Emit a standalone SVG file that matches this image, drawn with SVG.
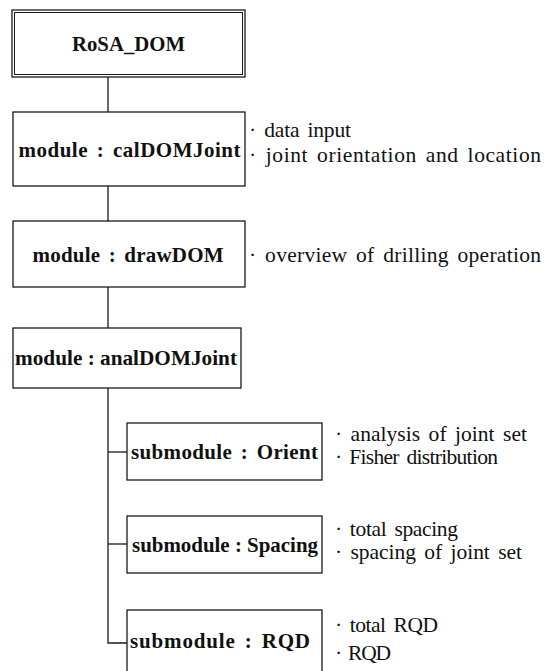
<svg xmlns="http://www.w3.org/2000/svg" width="545" height="671" viewBox="0 0 545 671">
  <style>
    .box { fill: #ffffff; stroke: #1a1a1a; stroke-width: 1.3; }
    .inner { fill: none; stroke: #1a1a1a; stroke-width: 1; }
    .lbl { font-family: "Liberation Serif", "Times New Roman", serif; font-weight: bold; font-size: 21px; fill: #111; text-anchor: middle; word-spacing: 3px; }
    .note { font-family: "Liberation Serif", "Times New Roman", serif; font-size: 21.5px; fill: #111; word-spacing: 3px; }
    .wire { fill: none; stroke: #1a1a1a; stroke-width: 1.3; }
  </style>
  <rect width="545" height="671" fill="#ffffff"/>

  <!-- connectors -->
  <g id="connectors">
    <line class="wire" x1="108" y1="77" x2="108" y2="112"/>
    <line class="wire" x1="108" y1="186" x2="108" y2="221"/>
    <line class="wire" x1="108" y1="287" x2="108" y2="328"/>
    <polyline class="wire" points="108,388 108,643 127,643"/>
    <line class="wire" x1="108" y1="452" x2="127" y2="452"/>
    <line class="wire" x1="108" y1="544" x2="127" y2="544"/>
  </g>

  <!-- root program -->
  <g id="rosa-dom">
    <rect class="box" x="12" y="10" width="233" height="67"/>
    <rect class="inner" x="14.5" y="12.5" width="228" height="62"/>
    <text class="lbl" x="128.5" y="51" textLength="113" lengthAdjust="spacingAndGlyphs">RoSA_DOM</text>
  </g>

  <g id="cal-dom-joint">
    <rect class="box" x="13" y="112" width="232" height="74"/>
    <text class="lbl" x="129.5" y="157" textLength="222" lengthAdjust="spacing">module : calDOMJoint</text>
    <text class="note" x="249" y="137" textLength="102" lengthAdjust="spacing">· data input</text>
    <text class="note" x="249" y="162" textLength="292" lengthAdjust="spacing">· joint orientation and location</text>
  </g>

  <g id="draw-dom">
    <rect class="box" x="13" y="221" width="232" height="66"/>
    <text class="lbl" x="128" y="262" textLength="191" lengthAdjust="spacing">module : drawDOM</text>
    <text class="note" x="249" y="262" textLength="292" lengthAdjust="spacing">· overview of drilling operation</text>
  </g>

  <g id="anal-dom-joint">
    <rect class="box" x="13" y="328" width="228" height="60"/>
    <text class="lbl" x="126" y="365" textLength="222" lengthAdjust="spacingAndGlyphs" style="word-spacing:0">module : analDOMJoint</text>
  </g>

  <g id="sub-orient">
    <rect class="box" x="127" y="423" width="195" height="57"/>
    <text class="lbl" x="224.5" y="459" textLength="187" lengthAdjust="spacing">submodule : Orient</text>
    <text class="note" x="335" y="441" textLength="192" lengthAdjust="spacing">· analysis of joint set</text>
    <text class="note" x="335" y="464" textLength="163" lengthAdjust="spacing">· Fisher distribution</text>
  </g>

  <g id="sub-spacing">
    <rect class="box" x="127" y="516" width="195" height="57"/>
    <text class="lbl" x="225" y="552" textLength="186" lengthAdjust="spacingAndGlyphs" style="word-spacing:0">submodule : Spacing</text>
    <text class="note" x="335" y="536" textLength="123" lengthAdjust="spacing">· total spacing</text>
    <text class="note" x="335" y="559" textLength="187" lengthAdjust="spacing">· spacing of joint set</text>
  </g>

  <g id="sub-rqd">
    <rect class="box" x="127" y="610" width="195" height="70"/>
    <text class="lbl" x="220" y="648" textLength="180" lengthAdjust="spacing">submodule : RQD</text>
    <text class="note" x="335" y="632" textLength="103" lengthAdjust="spacing">· total RQD</text>
    <text class="note" x="335" y="660" textLength="56" lengthAdjust="spacing">· RQD</text>
  </g>
</svg>
